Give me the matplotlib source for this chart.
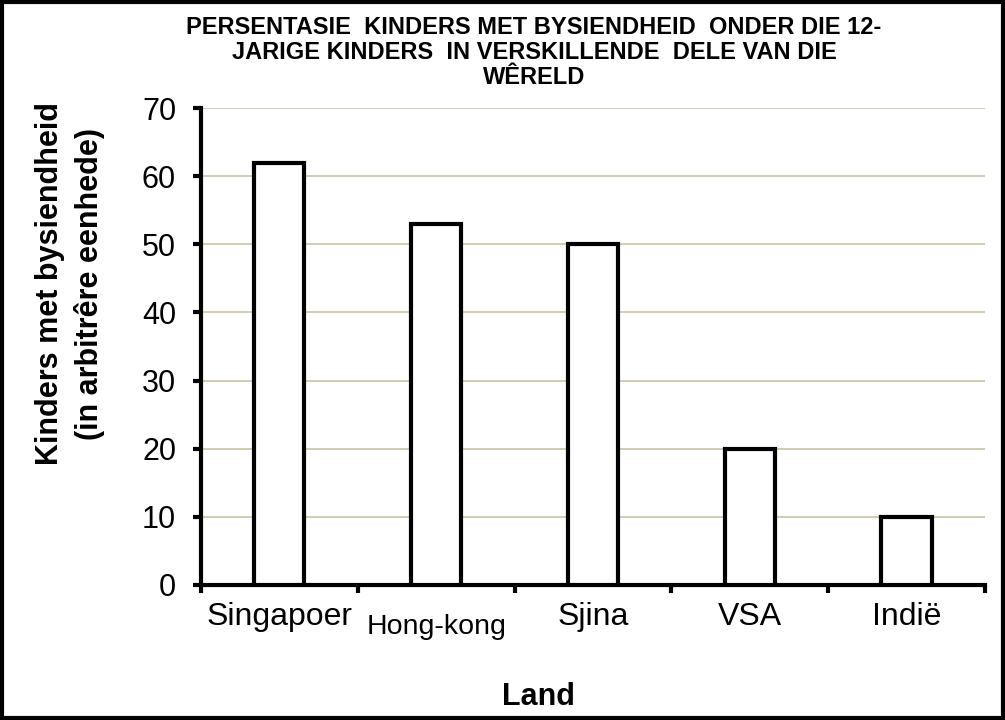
import matplotlib
matplotlib.use("Agg")
import matplotlib.pyplot as plt
from matplotlib.patches import Rectangle

lande = ["Singapoer", "Hong-kong", "Sjina", "VSA", "Indië"]
waardes = [62, 53, 50, 20, 10]
y_ticks = [0, 10, 20, 30, 40, 50, 60, 70]

titel = ("PERSENTASIE  KINDERS MET BYSIENDHEID  ONDER DIE 12-\n"
         "JARIGE KINDERS  IN VERSKILLENDE  DELE VAN DIE\n"
         "WÊRELD")

plt.rcParams['font.family'] = ['Liberation Sans', 'DejaVu Sans']

fig = plt.figure(figsize=(10.05, 7.2), dpi=100)
ax = fig.add_axes([0.2, 0.1875, 0.78, 0.6625])

x = list(range(len(lande)))
ax.bar(x, waardes, width=0.32, color="white", edgecolor="black", linewidth=3, zorder=3)

ax.set_xlim(-0.5, 4.5)
ax.set_ylim(0, 70)
ax.set_yticks(y_ticks)
ax.yaxis.grid(True, color="#c9c3a3", linewidth=1.2, zorder=0)
ax.tick_params(axis="y", labelsize=22, width=3, length=6, direction="out", pad=12)

# tick marks on category boundaries, labels at centres
ax.set_xticks([i - 0.5 for i in range(len(lande) + 1)])
ax.set_xticklabels([])
ax.tick_params(axis="x", which="major", width=3, length=6, direction="out")
ax.set_xticks(x, minor=True)
ax.set_xticklabels(lande, minor=True)
ax.tick_params(axis="x", which="minor", length=0, labelsize=23, pad=12)
hk = ax.get_xticklabels(minor=True)[1]
hk.set_fontsize(20.5)
hk.set_y(-0.025)

for s in ["top", "right"]:
    ax.spines[s].set_visible(False)
for s in ["left", "bottom"]:
    ax.spines[s].set_linewidth(3)

fig.text(538 / 1005, 1 - 697 / 720, "Land", ha="center", va="center",
         fontsize=22, fontweight="bold")
fig.text(70 / 1005, 1 - 284 / 720, "Kinders met bysiendheid\n(in arbitrêre eenhede)",
         ha="center", va="center", rotation=90, fontsize=22, fontweight="bold",
         linespacing=1.4)

fig.text(534 / 1005, 1 - 16 / 720, titel, ha="center", va="top", fontsize=17,
         fontweight="bold", linespacing=1.12)

fig.patches.append(Rectangle((0.002, 0.003), 0.996, 0.994, transform=fig.transFigure,
                             fill=False, edgecolor="black", linewidth=3))

fig.savefig("out.png", dpi=100)
